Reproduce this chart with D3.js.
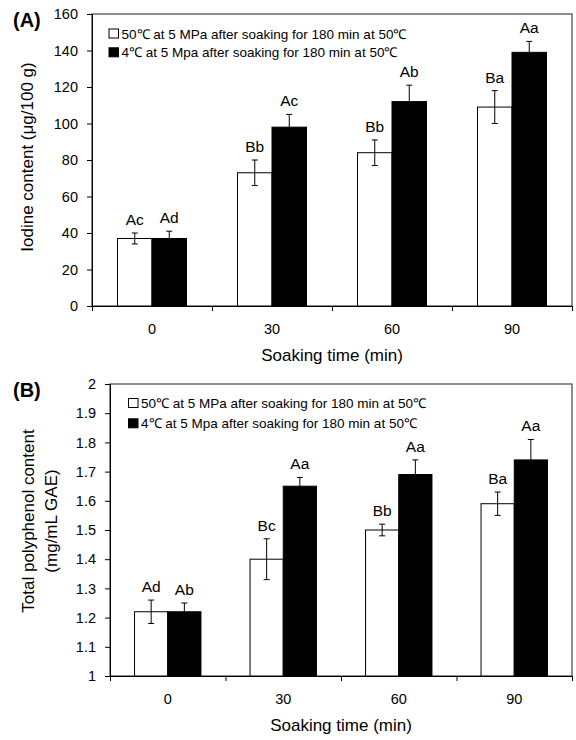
<!DOCTYPE html>
<html>
<head>
<meta charset="utf-8">
<script src="https://cdn.jsdelivr.net/npm/d3@7"></script>
<style>
  body { margin: 0; background: #fff; }
  svg { display: block; font-family: "Liberation Sans", Arial, sans-serif; }
</style>
</head>
<body>
<svg id="chart" width="576" height="740"></svg>
<script>
// soaking times on the x axis
const soakTimes = ["0", "30", "60", "90"];
const seriesNames = [
  "50\u2103 at 5 MPa after soaking for 180 min at 50\u2103",
  "4\u2103 at 5 Mpa after soaking for 180 min at 50\u2103"
];

// (A) iodine content
const iodine50 = [37, 73, 84, 109];
const iodine50Err = [3, 7, 7, 9];
const iodine50Letters = ["Ac", "Bb", "Bb", "Ba"];
const iodine4 = [37, 98, 112, 139];
const iodine4Err = [4, 7, 9, 6];
const iodine4Letters = ["Ad", "Ac", "Ab", "Aa"];
const iodineTicks = [0, 20, 40, 60, 80, 100, 120, 140, 160];

// (B) total polyphenol content
const poly50 = [1.22, 1.40, 1.50, 1.59];
const poly50Err = [0.04, 0.07, 0.02, 0.04];
const poly50Letters = ["Ad", "Bc", "Bb", "Ba"];
const poly4 = [1.22, 1.65, 1.69, 1.74];
const poly4Err = [0.03, 0.03, 0.05, 0.07];
const poly4Letters = ["Ab", "Aa", "Aa", "Aa"];
const polyTicks = [1, 1.1, 1.2, 1.3, 1.4, 1.5, 1.6, 1.7, 1.8, 1.9, 2];

const svg = d3.select("#chart");
const fills = ["#fff", "#000"];

let buildPanel = function(opt) {
  const g = svg.append("g");

  const x = d3.scaleBand().domain(soakTimes).range([opt.left, opt.right]);
  const xSub = d3.scaleBand().domain([0, 1]).range([0, x.bandwidth() * 0.575]);
  const y = d3.scaleLinear().domain([opt.ticks[0], opt.ticks[opt.ticks.length - 1]])
    .range([opt.bottom, opt.top]);

  // flatten both series into one list of bars
  let bars = [];
  opt.series.forEach((s, si) => {
    soakTimes.forEach((t, i) => {
      bars.push({ time: t, s: si, v: s.values[i], e: s.errs[i], letter: s.letters[i] });
    });
  });
  const barX = d => x(d.time) + (x.bandwidth() - x.bandwidth() * 0.575) / 2 + xSub(d.s);

  // frame round the plot
  g.append("rect")
    .attr("x", opt.left).attr("y", opt.top)
    .attr("width", opt.right - opt.left).attr("height", opt.bottom - opt.top)
    .attr("fill", "none").attr("stroke", "#444").attr("stroke-width", 1.2);

  g.selectAll(".bar").data(bars).join("rect")
    .attr("class", "bar")
    .attr("x", barX)
    .attr("y", d => y(d.v))
    .attr("width", xSub.bandwidth())
    .attr("height", d => opt.bottom - y(d.v))
    .attr("fill", d => fills[d.s])
    .attr("stroke", "#000").attr("stroke-width", 1);

  // error bars
  const err = g.selectAll(".err").data(bars).join("g").attr("class", "err")
    .attr("transform", d => "translate(" + (barX(d) + xSub.bandwidth() / 2) + ",0)")
    .attr("stroke", "#000").attr("stroke-width", 1);
  err.append("line").attr("y1", d => y(d.v - d.e)).attr("y2", d => y(d.v + d.e));
  err.append("line").attr("x1", -3).attr("x2", 3).attr("y1", d => y(d.v + d.e)).attr("y2", d => y(d.v + d.e));
  err.append("line").attr("x1", -3).attr("x2", 3).attr("y1", d => y(d.v - d.e)).attr("y2", d => y(d.v - d.e));

  // significance letters
  g.selectAll(".letter").data(bars).join("text")
    .attr("class", "letter")
    .attr("x", d => barX(d) + xSub.bandwidth() / 2)
    .attr("y", d => y(d.v + d.e) - 8)
    .attr("text-anchor", "middle")
    .attr("font-size", 15.5)
    .text(d => d.letter);

  // y axis
  g.append("g")
    .attr("transform", "translate(" + opt.left + ",0)")
    .call(d3.axisLeft(y).tickValues(opt.ticks).tickFormat(d => String(d)).tickSize(5).tickPadding(9))
    .call(a => a.select(".domain").attr("stroke", "#000"))
    .call(a => a.selectAll("text").attr("font-size", 14.5).attr("fill", "#000").attr("font-family", null));

  // x axis: ticks on category boundaries, labels at the centres
  const xEdge = d3.scaleLinear().domain([0, soakTimes.length]).range([opt.left, opt.right]);
  g.append("g")
    .attr("transform", "translate(0," + opt.bottom + ")")
    .call(d3.axisBottom(xEdge).tickValues(d3.range(soakTimes.length + 1)).tickFormat("").tickSize(5))
    .call(a => a.select(".domain").attr("stroke", "#000"));
  g.append("g")
    .attr("transform", "translate(0," + opt.bottom + ")")
    .call(d3.axisBottom(x).tickSize(0).tickPadding(18))
    .call(a => a.select(".domain").remove())
    .call(a => a.selectAll("text").attr("font-size", 14.5).attr("fill", "#000").attr("font-family", null));

  // axis titles
  g.append("text")
    .attr("x", (opt.left + opt.right) / 2).attr("y", opt.bottom + 55)
    .attr("text-anchor", "middle").attr("font-size", 17)
    .text("Soaking time (min)");
  const yt = g.append("text")
    .attr("transform", "translate(" + opt.titleX + "," + opt.titleY + ") rotate(-90)")
    .attr("text-anchor", "middle").attr("font-size", 17);
  opt.yTitle.forEach((line, i) => {
    yt.append("tspan").attr("x", 0).attr("dy", i == 0 ? 0 : "1.38em").text(line);
  });

  // panel letter
  g.append("text")
    .attr("x", 13).attr("y", opt.top + 13)
    .attr("font-size", 20).attr("font-weight", "bold")
    .text(opt.panel);

  // legend
  seriesNames.forEach((name, i) => {
    const ly = opt.legendY + i * opt.legendGap;
    g.append("rect")
      .attr("x", opt.legendX).attr("y", ly - 4.5)
      .attr("width", 9.5).attr("height", 9)
      .attr("fill", fills[i]).attr("stroke", "#000");
    g.append("text")
      .attr("x", opt.legendX + 12.5).attr("y", ly + 5)
      .attr("font-size", 13.5)
      .text(name);
  });
};

buildPanel({
  panel: "(A)",
  left: 92, right: 572, top: 14, bottom: 306,
  ticks: iodineTicks,
  series: [
    { values: iodine50, errs: iodine50Err, letters: iodine50Letters },
    { values: iodine4, errs: iodine4Err, letters: iodine4Letters }
  ],
  yTitle: ["Iodine content (\u03bcg/100 g)"],
  titleX: 33, titleY: 157,
  legendX: 109, legendY: 33.5, legendGap: 18.8
});

buildPanel({
  panel: "(B)",
  left: 110, right: 572, top: 384, bottom: 676,
  ticks: polyTicks,
  series: [
    { values: poly50, errs: poly50Err, letters: poly50Letters },
    { values: poly4, errs: poly4Err, letters: poly4Letters }
  ],
  yTitle: ["Total polyphenol content", "(mg/mL GAE)"],
  titleX: 34, titleY: 521,
  legendX: 128.5, legendY: 403, legendGap: 20.3
});
</script>
</body>
</html>
